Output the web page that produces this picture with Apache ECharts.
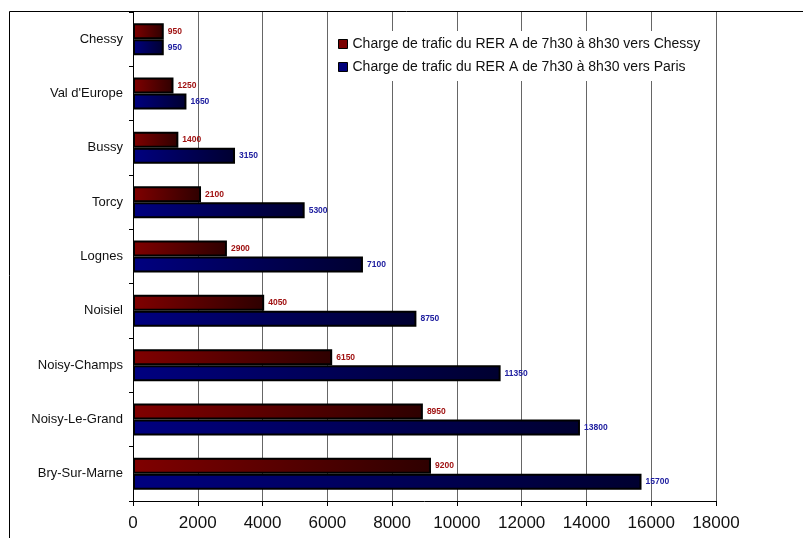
<!DOCTYPE html>
<html>
<head>
<meta charset="utf-8">
<script src="https://cdn.jsdelivr.net/npm/echarts@6/dist/echarts.min.js"></script>
<style>
  html, body { margin: 0; padding: 0; background: #fff; }
  #chart { width: 803px; height: 538px; }
</style>
</head>
<body>
<div id="chart"></div>
<script>
const stations = ['Chessy', "Val d'Europe", 'Bussy', 'Torcy', 'Lognes', 'Noisiel', 'Noisy-Champs', 'Noisy-Le-Grand', 'Bry-Sur-Marne']
const versChessy = [950, 1250, 1400, 2100, 2900, 4050, 6150, 8950, 9200]
const versParis = [950, 1650, 3150, 5300, 7100, 8750, 11350, 13800, 15700]
const seriesNames = [
  'Charge de trafic du RER A de 7h30 à 8h30 vers Chessy',
  'Charge de trafic du RER A de 7h30 à 8h30 vers Paris',
]

const chart = echarts.init(document.getElementById('chart'))

const grad = (from, to) => new echarts.graphic.LinearGradient(0, 0, 1, 0, [
  { offset: 0, color: from },
  { offset: 1, color: to },
])

const barLabel = (color) => ({
  show: true,
  position: 'right',
  distance: 4,
  color: color,
  fontFamily: 'Liberation Sans, Arial',
  fontSize: 8.5,
  fontWeight: 'bold',
})

chart.setOption({
  animation: false,
  textStyle: { fontFamily: 'Liberation Sans, Arial' },
  graphic: [
    {
      type: 'rect',
      shape: { x: 9.5, y: 11.5, width: 900, height: 700 },
      style: { fill: 'none', stroke: '#000', lineWidth: 1 },
      z: 0,
    },
  ],
  grid: { left: 133, right: 87, top: 12, bottom: 37 },
  legend: {
    orient: 'vertical',
    left: 333,
    top: 31,
    padding: [6, 6, 7, 5],
    itemGap: 9,
    itemWidth: 9,
    itemHeight: 9,
    icon: 'rect',
    backgroundColor: '#fff',
    z: 10,
    textStyle: { fontSize: 14, color: '#111', fontFamily: 'Liberation Sans, Arial' },
    data: [
      { name: seriesNames[0], itemStyle: { color: '#7a0000', borderColor: '#000', borderWidth: 1 } },
      { name: seriesNames[1], itemStyle: { color: '#00007a', borderColor: '#000', borderWidth: 1 } },
    ],
  },
  xAxis: {
    type: 'value',
    min: 0,
    max: 18000,
    interval: 2000,
    axisLine: { show: true, lineStyle: { color: '#000', width: 1 } },
    axisTick: { show: true, length: 5, lineStyle: { color: '#000' } },
    axisLabel: { color: '#111', fontSize: 17, margin: 14, formatter: (v) => String(v) },
    splitLine: { show: true, lineStyle: { color: '#666', width: 1 } },
  },
  yAxis: {
    type: 'category',
    data: stations,
    inverse: true,
    axisLine: { show: true, lineStyle: { color: '#000', width: 1 } },
    axisTick: { show: true, length: 4, lineStyle: { color: '#000' } },
    axisLabel: { color: '#111', fontSize: 13, margin: 10 },
  },
  series: [
    {
      name: seriesNames[0],
      type: 'bar',
      data: versChessy,
      barWidth: 16,
      barGap: '0%',
      itemStyle: { color: grad('#800000', '#2e0000'), borderColor: '#000', borderWidth: 2 },
      label: barLabel('#a01212'),
    },
    {
      name: seriesNames[1],
      type: 'bar',
      data: versParis,
      barWidth: 16,
      barGap: '0%',
      itemStyle: { color: grad('#000080', '#000030'), borderColor: '#000', borderWidth: 2 },
      label: barLabel('#2020a0'),
    },
  ],
})
</script>
</body>
</html>
